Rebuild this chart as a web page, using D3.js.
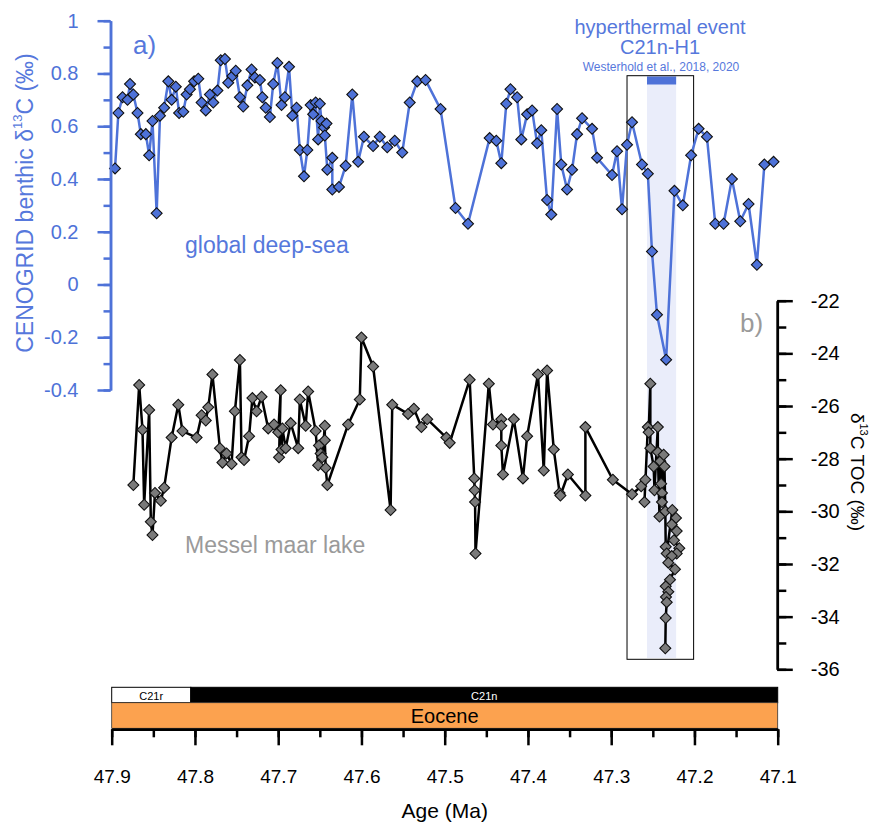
<!DOCTYPE html>
<html>
<head>
<meta charset="utf-8">
<script src="https://cdn.jsdelivr.net/npm/d3@7"></script>
<style>
  body { margin: 0; background: #fff; }
  text { font-family: "Liberation Sans", Arial, sans-serif; }
</style>
</head>
<body>
<svg id="chart" width="873" height="824"></svg>
<script>
// CENOGRID benthic d13C (global deep-sea)
const benthicAge = [47.896, 47.892, 47.887, 47.881, 47.878, 47.874, 47.869, 47.865, 47.859, 47.855,
  47.851, 47.846, 47.842, 47.837, 47.832, 47.828, 47.823, 47.819, 47.814, 47.810,
  47.806, 47.801, 47.796, 47.792, 47.787, 47.782, 47.778, 47.773, 47.769, 47.764,
  47.760, 47.755, 47.751, 47.746, 47.742, 47.737, 47.732, 47.728, 47.722, 47.719,
  47.715, 47.710, 47.706, 47.701, 47.696, 47.692, 47.687, 47.683, 47.678, 47.674,
  47.669, 47.665, 47.661, 47.658, 47.655, 47.652, 47.650, 47.648, 47.645, 47.642,
  47.644, 47.641, 47.635, 47.635, 47.627, 47.619, 47.611, 47.604, 47.597, 47.586,
  47.578, 47.569, 47.560, 47.551, 47.542, 47.533, 47.523, 47.505, 47.487, 47.472,
  47.446, 47.438, 47.432, 47.426, 47.421, 47.413, 47.408, 47.401, 47.395, 47.389,
  47.384, 47.377, 47.372, 47.365, 47.360, 47.353, 47.347, 47.341, 47.335, 47.323,
  47.317, 47.299, 47.293, 47.287, 47.281, 47.275, 47.263, 47.256, 47.251, 47.245,
  47.234, 47.224, 47.214, 47.204, 47.195, 47.185, 47.175, 47.165, 47.155, 47.145,
  47.135, 47.125, 47.116, 47.105];
const benthicD13C = [0.44, 0.65, 0.71, 0.70, 0.76, 0.72, 0.65, 0.57, 0.57, 0.49,
  0.62, 0.27, 0.64, 0.67, 0.77, 0.70, 0.75, 0.65, 0.655, 0.72,
  0.74, 0.77, 0.78, 0.69, 0.66, 0.72, 0.69, 0.735, 0.85, 0.855,
  0.765, 0.79, 0.81, 0.71, 0.675, 0.755, 0.815, 0.785, 0.775, 0.71,
  0.67, 0.635, 0.76, 0.84, 0.68, 0.71, 0.825, 0.64, 0.67, 0.51,
  0.41, 0.51, 0.68, 0.645, 0.69, 0.55, 0.685, 0.62, 0.595, 0.61,
  0.565, 0.435, 0.48, 0.36, 0.37, 0.45, 0.72, 0.465, 0.56, 0.525,
  0.56, 0.52, 0.545, 0.50, 0.69, 0.77, 0.775, 0.665, 0.29, 0.23,
  0.555, 0.545, 0.46, 0.685, 0.74, 0.71, 0.55, 0.645, 0.66, 0.535,
  0.585, 0.32, 0.265, 0.665, 0.455, 0.36, 0.435, 0.57, 0.63, 0.59,
  0.48, 0.415, 0.505, 0.285, 0.53, 0.615, 0.455, 0.42, 0.125, -0.115,
  -0.285, 0.355, 0.30, 0.49, 0.59, 0.56, 0.23, 0.23, 0.40, 0.24,
  0.305, 0.075, 0.455, 0.465];

// Messel maar lake d13C TOC
const messelAge = [47.874, 47.867, 47.863, 47.861, 47.855, 47.853, 47.851, 47.848, 47.841, 47.837,
  47.828, 47.820, 47.815, 47.798, 47.792, 47.787, 47.784, 47.779, 47.770, 47.767,
  47.762, 47.756, 47.752, 47.746, 47.744, 47.741, 47.735, 47.731, 47.726, 47.720,
  47.712, 47.705, 47.700, 47.697, 47.699, 47.696, 47.695, 47.691, 47.685, 47.676,
  47.674, 47.667, 47.664, 47.655, 47.652, 47.651, 47.649, 47.647, 47.644, 47.644,
  47.643, 47.641, 47.616, 47.602, 47.600, 47.586, 47.565, 47.563, 47.544, 47.537,
  47.528, 47.521, 47.498, 47.494, 47.470, 47.4645, 47.464, 47.4635, 47.463, 47.447,
  47.442, 47.432, 47.432, 47.432, 47.430, 47.417, 47.406, 47.401, 47.388, 47.381,
  47.377, 47.369, 47.362, 47.361, 47.352, 47.331, 47.331, 47.298, 47.275, 47.264,
  47.259, 47.260, 47.256, 47.255, 47.253, 47.253, 47.249, 47.248, 47.244, 47.244,
  47.242, 47.241, 47.240, 47.239, 47.239, 47.237, 47.236, 47.235, 47.2345, 47.2333,
  47.2266, 47.2222, 47.2273, 47.2213, 47.2246, 47.2182, 47.2213, 47.2273, 47.2314, 47.2234,
  47.2294, 47.2345, 47.2314, 47.2342, 47.2333, 47.2345, 47.235];
const messelD13C = [-29.0, -25.2, -26.9, -29.75, -26.15, -30.4, -30.9, -29.3, -29.6, -29.1,
  -27.2, -25.95, -26.95, -27.2, -26.35, -26.55, -26.05, -24.8, -27.6, -28.15,
  -27.8, -28.2, -26.2, -24.25, -27.95, -28.05, -27.15, -25.7, -26.2, -25.65,
  -26.85, -26.7, -27.0, -25.4, -27.95, -27.65, -26.85, -27.6, -26.65, -27.6,
  -25.75, -26.75, -25.45, -26.95, -28.25, -27.5, -27.8, -27.95, -26.75, -27.3,
  -28.35, -29.0, -26.7, -25.75, -23.4, -24.5, -29.95, -25.95, -26.3, -26.1,
  -26.8, -26.5, -27.2, -27.4, -25.0, -28.75, -29.2, -29.65, -31.6, -25.15,
  -26.7, -26.5, -26.75, -27.5, -28.6, -26.5, -28.75, -27.15, -24.8, -28.45,
  -24.65, -27.65, -29.3, -29.4, -28.6, -29.4, -26.8, -28.8, -29.35, -29.05,
  -28.8, -29.65, -26.8, -27.0, -25.15, -27.6, -28.3, -29.2, -26.8, -27.75,
  -30.2, -28.1, -28.95, -29.3, -29.65, -27.85, -28.3, -30.0, -31.35, -31.6,
  -29.95, -30.25, -30.5, -30.75, -31.1, -31.4, -31.6, -31.7, -31.95, -32.2,
  -32.6, -32.85, -33.05, -33.25, -33.45, -34.05, -35.2];

const ageTicks = [47.9, 47.8, 47.7, 47.6, 47.5, 47.4, 47.3, 47.2, 47.1];
const benthicTicks = [-0.4, -0.2, 0, 0.2, 0.4, 0.6, 0.8, 1];
const tocTicks = [-36, -34, -32, -30, -28, -26, -24, -22];

// hyperthermal event C21n-H1 and the highlighted window
const eventAges = [47.257, 47.222];
const windowAges = [47.281, 47.201];

// magnetochrons and epoch
const chronNames = ['C21r', 'C21n'];
const chronStart = [47.9, 47.805];
const chronEnd = [47.805, 47.1];
const chronFill = ['#fff', '#000'];
const chronText = ['#000', '#fff'];

const blue = '#4e72d8';
const blueText = '#5678dc';

const svg = d3.select('#chart');

const x = d3.scaleLinear().domain([47.9, 47.1]).range([111.7, 777.7]);
const yB = d3.scaleLinear().domain([-0.4, 1]).range([390, 20.7]);
const yT = d3.scaleLinear().domain([-36, -22]).range([669.3, 300.7]);

// event band, bar and window
svg.append('rect')
  .attr('x', x(eventAges[0])).attr('width', x(eventAges[1]) - x(eventAges[0]))
  .attr('y', 76).attr('height', 582)
  .attr('fill', '#eaedfa');
svg.append('rect')
  .attr('x', x(eventAges[0])).attr('width', x(eventAges[1]) - x(eventAges[0]))
  .attr('y', 76.5).attr('height', 8)
  .attr('fill', blue);
svg.append('rect')
  .attr('x', x(windowAges[0])).attr('width', x(windowAges[1]) - x(windowAges[0]))
  .attr('y', 75.7).attr('height', 583.6)
  .attr('fill', 'none').attr('stroke', '#000').attr('stroke-width', 1);

const diamond = d3.symbol(d3.symbolSquare, 60);

function drawSeries(ages, vals, y, lineColor, fill) {
  const idx = d3.range(ages.length);
  const line = d3.line().x(i => x(ages[i])).y(i => y(vals[i]));
  svg.append('path')
    .datum(idx)
    .attr('d', line)
    .attr('fill', 'none')
    .attr('stroke', lineColor)
    .attr('stroke-width', 2.5)
    .attr('stroke-linejoin', 'round');
  svg.append('g').selectAll('path')
    .data(idx)
    .join('path')
    .attr('d', diamond)
    .attr('transform', i => `translate(${x(ages[i])},${y(vals[i])}) rotate(45)`)
    .attr('fill', fill)
    .attr('stroke', '#111')
    .attr('stroke-width', 1.1);
}

drawSeries(messelAge, messelD13C, yT, '#000', '#7a7a7a');
drawSeries(benthicAge, benthicD13C, yB, blue, blue);

function styleAxis(g, color, size) {
  g.select('.domain').attr('stroke', color).attr('stroke-width', 2.5);
  g.selectAll('.tick line').attr('stroke', color).attr('stroke-width', 2.5);
  g.selectAll('.tick text').attr('fill', color).attr('font-size', size)
    .style('font-family', '"Liberation Sans", Arial, sans-serif');
}

// left axis (benthic)
const leftMinor = svg.append('g').attr('transform', 'translate(110.5,0)')
  .call(d3.axisLeft(yB).tickValues(yB.ticks(14)).tickSize(7).tickSizeOuter(0).tickFormat(''));
styleAxis(leftMinor, blue, 20);
const leftMajor = svg.append('g').attr('transform', 'translate(110.5,0)')
  .call(d3.axisLeft(yB).tickValues(benthicTicks).tickSize(13).tickPadding(19).tickSizeOuter(0)
    .tickFormat(d => String(+d.toFixed(1))));
styleAxis(leftMajor, blue, 20);

// right axis (TOC)
const rightMinor = svg.append('g').attr('transform', 'translate(777.3,0)')
  .call(d3.axisRight(yT).tickValues(d3.range(-36, -21, 1)).tickSize(9).tickSizeOuter(0).tickFormat(''));
styleAxis(rightMinor, '#000', 20);
const rightMajor = svg.append('g').attr('transform', 'translate(777.3,0)')
  .call(d3.axisRight(yT).tickValues(tocTicks).tickSize(15.5).tickPadding(18).tickSizeOuter(0)
    .tickFormat(d => String(d)));
styleAxis(rightMajor, '#000', 20);

// chrons + epoch bar
chronNames.forEach((name, i) => {
  svg.append('rect')
    .attr('x', x(chronStart[i])).attr('width', x(chronEnd[i]) - x(chronStart[i]))
    .attr('y', 687.3).attr('height', 15.4)
    .attr('fill', chronFill[i]).attr('stroke', '#000').attr('stroke-width', 1);
  svg.append('text')
    .attr('x', (x(chronStart[i]) + x(chronEnd[i])) / 2).attr('y', 695.5)
    .attr('text-anchor', 'middle').attr('dominant-baseline', 'central')
    .attr('font-size', 11).attr('fill', chronText[i])
    .text(name);
});
svg.append('rect')
  .attr('x', x(47.9)).attr('width', x(47.1) - x(47.9))
  .attr('y', 702.7).attr('height', 25.6)
  .attr('fill', '#fca24f').attr('stroke', '#333').attr('stroke-width', 0.8);
svg.append('text')
  .attr('x', (x(47.9) + x(47.1)) / 2).attr('y', 716)
  .attr('text-anchor', 'middle').attr('dominant-baseline', 'central')
  .attr('font-size', 20).attr('fill', '#000')
  .text('Eocene');

// bottom axis (age)
const botMinor = svg.append('g').attr('transform', 'translate(0,729.3)')
  .call(d3.axisBottom(x).tickValues(x.ticks(16)).tickSize(8).tickSizeOuter(0).tickFormat(''));
styleAxis(botMinor, '#000', 19);
const botMajor = svg.append('g').attr('transform', 'translate(0,729.3)')
  .call(d3.axisBottom(x).tickValues(ageTicks).tickSize(16).tickPadding(24).tickSizeOuter(0)
    .tickFormat(d => d.toFixed(1)));
styleAxis(botMajor, '#000', 19);

svg.append('text')
  .attr('x', (x(47.9) + x(47.1)) / 2).attr('y', 818)
  .attr('text-anchor', 'middle').attr('font-size', 21).attr('fill', '#000')
  .text('Age (Ma)');

// axis titles
const leftTitle = svg.append('text')
  .attr('transform', 'translate(25,203) rotate(-90)')
  .attr('text-anchor', 'middle').attr('dominant-baseline', 'central')
  .attr('font-size', 23).attr('fill', blueText);
leftTitle.append('tspan').text('CENOGRID benthic δ');
leftTitle.append('tspan').attr('font-size', 13).attr('dy', -8).text('13');
leftTitle.append('tspan').attr('dy', 8).text('C (‰)');

const rightTitle = svg.append('text')
  .attr('transform', 'translate(857.5,472) rotate(90)')
  .attr('text-anchor', 'middle').attr('dominant-baseline', 'central')
  .attr('font-size', 19).attr('fill', '#000');
rightTitle.append('tspan').text('δ');
rightTitle.append('tspan').attr('font-size', 11).attr('dy', -6).text('13');
rightTitle.append('tspan').attr('dy', 6).text('C TOC (‰)');

// panel labels and annotations
svg.append('text').attr('x', 133).attr('y', 54).attr('font-size', 26).attr('fill', blueText).text('a)');
svg.append('text').attr('x', 740).attr('y', 332).attr('font-size', 26).attr('fill', '#9a9a9a').text('b)');
svg.append('text').attr('x', 185).attr('y', 253).attr('font-size', 23).attr('fill', blueText).text('global deep-sea');
svg.append('text').attr('x', 185).attr('y', 553).attr('font-size', 23).attr('fill', '#9a9a9a').text('Messel maar lake');

svg.append('text').attr('x', 660).attr('y', 33.5).attr('text-anchor', 'middle')
  .attr('font-size', 20).attr('fill', blueText).text('hyperthermal event');
svg.append('text').attr('x', 660).attr('y', 53.5).attr('text-anchor', 'middle')
  .attr('font-size', 20).attr('fill', blueText).text('C21n-H1');
svg.append('text').attr('x', 661).attr('y', 71).attr('text-anchor', 'middle')
  .attr('font-size', 12).attr('fill', blueText).text('Westerhold et al., 2018, 2020');
</script>
</body>
</html>
